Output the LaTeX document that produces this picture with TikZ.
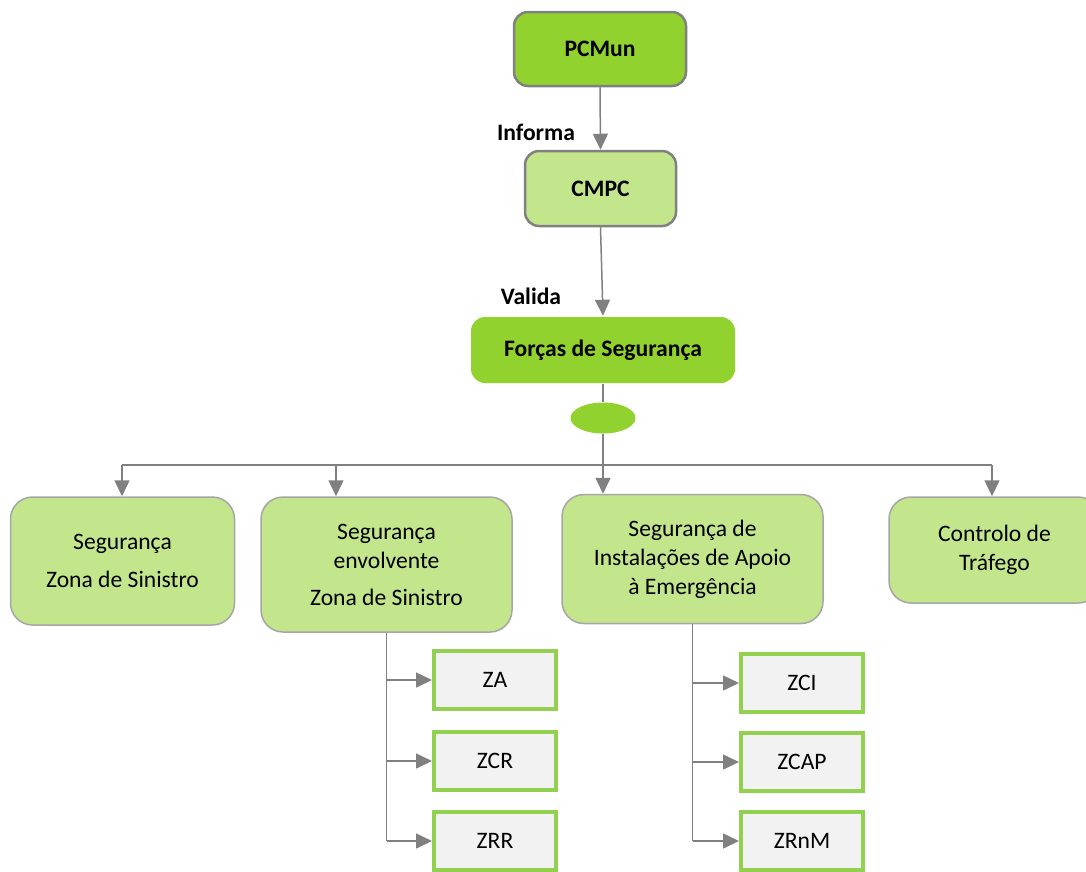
\documentclass[tikz,border=0pt]{standalone}
\usepackage{fontspec}
\setmainfont{Carlito}
\usetikzlibrary{arrows.meta,shapes.geometric}
\definecolor{vivid}{RGB}{146,210,46}
\definecolor{pale}{RGB}{195,230,141}
\definecolor{linkgray}{RGB}{128,128,128}
\definecolor{edgegray}{RGB}{166,166,166}
\definecolor{zonefill}{RGB}{242,242,242}
\definecolor{zoneedge}{RGB}{146,208,80}
\newcommand\boxtext{\fontsize{23.6}{29}\selectfont}
\tikzset{
  headbox/.style={draw=linkgray,line width=2.5pt,rounded corners=14pt,inner sep=0pt,font=\boxtext\bfseries},
  areabox/.style={draw=edgegray,line width=1.5pt,fill=pale,rounded corners=22pt,inner sep=0pt,align=center},
  zonebox/.style={draw=zoneedge,line width=4pt,fill=zonefill,inner sep=0pt,minimum width=122pt,minimum height=58pt},
  tag/.style={inner sep=0pt,font=\boxtext\bfseries},
  plain/.style={draw=linkgray,line width=1.5pt},
  link/.style={plain,-{Triangle[length=16pt,width=15pt]}}
}
\begin{document}
\begin{tikzpicture}[x=1pt,y=-1pt,font=\boxtext]
\clip (0,0) rectangle (1086,871);
\node[headbox,fill=vivid,minimum width=172pt,minimum height=74pt] (pcmun) at (600,49) {PCMun};
\node[headbox,fill=pale,minimum width=151pt,minimum height=75pt] (cmpc) at (600.5,188.5) {CMPC};
\node[headbox,draw=none,fill=vivid,minimum width=264pt,minimum height=66pt] (forcas) at (603,350) {Forças de Segurança};
\node[ellipse,fill=vivid,minimum width=65pt,minimum height=31pt,inner sep=0pt] (hub) at (603,418) {};
\node[tag] (informa) at (536,132) {Informa};
\node[tag] (valida) at (531,296) {Valida};

\node[areabox,minimum width=224pt,minimum height=128pt] (seg1) at (122.5,561) {Segurança\\[9pt]Zona de Sinistro};
\node[areabox,minimum width=251pt,minimum height=135pt] (seg2) at (386.5,564.5) {Segurança\\envolvente\\[8pt]Zona de Sinistro};
\node[areabox,minimum width=261pt,minimum height=129pt] (seg3) at (692.5,559) {Segurança de\\Instalações de Apoio\\à Emergência};
\node[areabox,minimum width=211pt,minimum height=106pt] (trafego) at (994.5,550) {Controlo de\\Tráfego};

\node[zonebox] (za) at (495,680) {ZA};
\node[zonebox] (zcr) at (495,761) {ZCR};
\node[zonebox] (zrr) at (495,841) {ZRR};
\node[zonebox] (zci) at (802,683) {ZCI};
\node[zonebox] (zcap) at (802,762) {ZCAP};
\node[zonebox] (zrnm) at (802,841) {ZRnM};

\coordinate (b1) at (122,465);
\coordinate (b2) at (336,465);
\coordinate (b3) at (603,465);
\coordinate (b4) at (992,465);

\draw[link] (pcmun.south) -- (cmpc.north);
\draw[link] (cmpc.south) -- (forcas.north);
\draw[plain] (forcas.south) -- (hub.north);
\draw[plain] (hub.south) -- (b3);
\draw[plain] (b1) -- (b4);
\foreach \b/\s in {b1/seg1,b2/seg2,b3/seg3,b4/trafego}
  \draw[link] (\b) -- (\b |- \s.north);

\draw[plain] (seg2.south) -- (seg2.south |- zrr.west);
\foreach \z in {za,zcr,zrr}
  \draw[link] (seg2.south |- \z.west) -- (\z.west);
\draw[plain] (seg3.south) -- (seg3.south |- zrnm.west);
\foreach \z in {zci,zcap,zrnm}
  \draw[link] (seg3.south |- \z.west) -- (\z.west);
\end{tikzpicture}
\end{document}
